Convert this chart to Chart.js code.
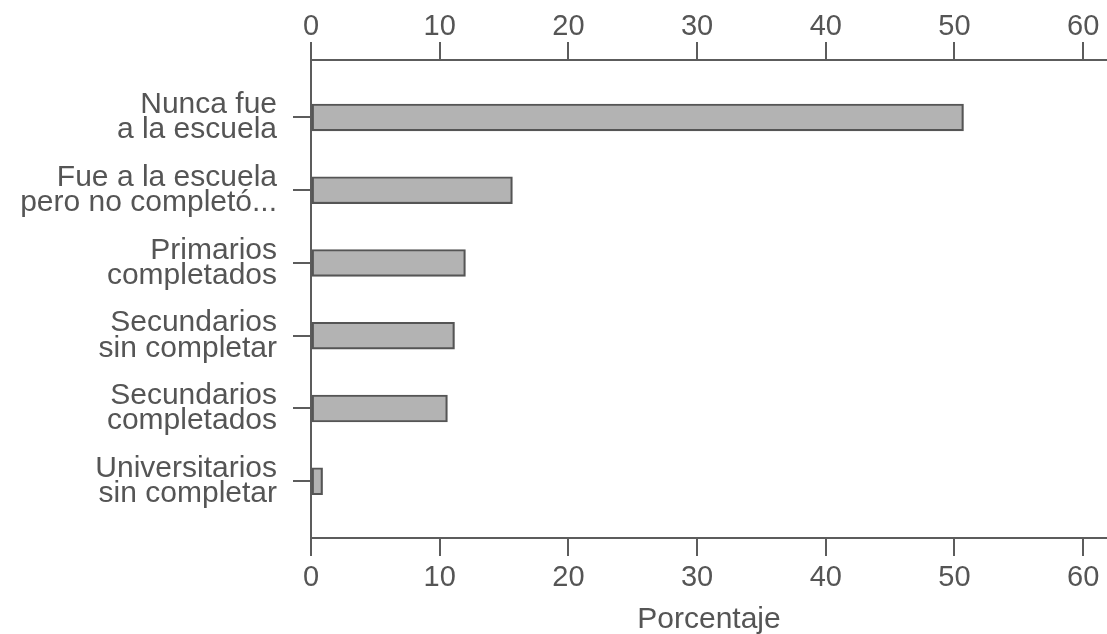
<!DOCTYPE html>
<html>
<head>
<meta charset="utf-8">
<script src="https://cdn.jsdelivr.net/npm/chart.js@4.4.1/dist/chart.umd.min.js"></script>
<style>
  html, body { margin: 0; padding: 0; background: #ffffff; }
  #wrap { width: 1107px; height: 634px; position: relative; }
</style>
</head>
<body>
<div id="wrap"><canvas id="c" width="1107" height="634"></canvas></div>
<script>
const categories = [
  ["Nunca fue", "a la escuela"],
  ["Fue a la escuela", "pero no completó..."],
  ["Primarios", "completados"],
  ["Secundarios", "sin completar"],
  ["Secundarios", "completados"],
  ["Universitarios", "sin completar"]
];
const percentages = [50.7, 15.65, 12.0, 11.15, 10.6, 0.9];
const xTicks = [0, 10, 20, 30, 40, 50, 60];
const xTitle = "Porcentaje";

const textColor = "#555555";
const lineColor = "#5c5c5c";
const fontFamily = "'Liberation Sans', Arial, Helvetica, sans-serif";

const points = percentages.map((v, i) => ({ x: v, y: i }));

const xCommon = {
  type: "linear",
  min: 0,
  max: 61.85,
  afterBuildTicks: s => { s.ticks = xTicks.map(v => ({ value: v })); },
  grid: { drawOnChartArea: false, color: lineColor, lineWidth: 2, tickLength: 18, tickColor: lineColor },
  border: { color: lineColor, width: 2 },
  ticks: { color: textColor, font: { family: fontFamily, size: 29 }, maxRotation: 0, autoSkip: false }
};

new Chart(document.getElementById("c"), {
  type: "bar",
  data: {
    datasets: [{
      data: points,
      xAxisID: "x",
      yAxisID: "y",
      backgroundColor: "#b3b3b3",
      borderColor: "#555555",
      borderWidth: 2.2,
      borderSkipped: false,
      barThickness: 27
    }]
  },
  options: {
    indexAxis: "y",
    responsive: false,
    animation: false,
    layout: { padding: 0 },
    plugins: { legend: { display: false }, tooltip: { enabled: false } },
    scales: {
      x: Object.assign({}, xCommon, {
        position: "bottom",
        ticks: Object.assign({}, xCommon.ticks, { padding: 5 }),
        title: { display: true, text: xTitle, color: textColor, font: { family: fontFamily, size: 30, lineHeight: 0.93 }, padding: { top: 2, bottom: 0 } },
        afterFit: s => { s.height = 96; }
      }),
      x2: Object.assign({}, xCommon, {
        position: "top",
        ticks: Object.assign({}, xCommon.ticks, { padding: -2 }),
        afterFit: s => { s.height = 60; }
      }),
      y: {
        type: "linear",
        reverse: true,
        offset: false,
        min: -0.79,
        max: 5.78,
        afterBuildTicks: s => { s.ticks = categories.map((c, i) => ({ value: i })); },
        grid: { offset: false, drawOnChartArea: false, color: lineColor, lineWidth: 2, tickLength: 18, tickColor: lineColor },
        border: { color: lineColor, width: 2 },
        ticks: {
          color: textColor,
          autoSkip: false,
          padding: 16,
          font: { family: fontFamily, size: 30, lineHeight: 0.84 },
          callback: (v) => categories[v]
        },
        afterFit: s => { s.width = 311; }
      }
    }
  }
});
</script>
</body>
</html>
